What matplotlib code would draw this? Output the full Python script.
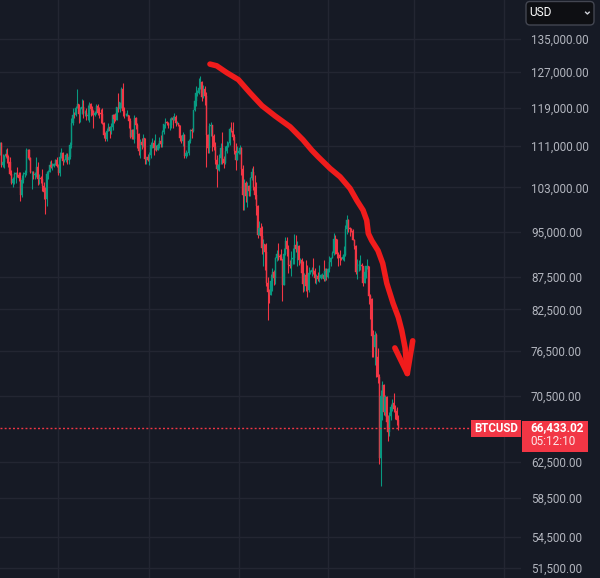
import numpy as np
import pandas as pd
import matplotlib
matplotlib.use("Agg")
import matplotlib.pyplot as plt
from matplotlib.patches import FancyBboxPatch, Rectangle
from matplotlib.lines import Line2D
from matplotlib.ticker import FixedLocator, NullLocator, FuncFormatter
from matplotlib.transforms import IdentityTransform

# ---------------- data (daily BTCUSD, thousands of USD) ----------------
start_date = "2025-05-22"

opens = [
    109.6, 111.7, 107.3, 107.8, 109.0, 109.4, 108.9, 107.8, 105.6, 103.9,
    104.6, 105.6, 105.8, 105.4, 104.7, 101.5, 104.3, 105.6, 105.7, 110.2,
    110.2, 108.6, 105.9, 106.0, 105.4, 105.5, 106.8, 104.6, 104.8, 104.6,
    103.3, 102.2, 100.9, 105.5, 106.0, 107.3, 106.9, 107.1, 107.4, 108.3,
    107.1, 105.7, 108.8, 109.6, 108.0, 108.2, 109.2, 108.2, 108.9, 111.3,
    115.9, 117.5, 117.4, 119.1, 119.8, 117.7, 118.7, 119.3, 117.9, 117.9,
    117.3, 117.4, 119.9, 118.7, 118.3, 117.6, 117.9, 119.4, 118.0, 117.9,
    117.8,
    115.7, 113.3, 112.5, 114.2, 115.0, 114.1, 115.0, 117.5, 116.7, 116.5,
    119.3, 118.7, 120.2, 123.3, 118.4, 117.4, 117.5, 117.5, 116.3, 112.9,
    114.3, 112.5, 116.9, 115.4, 113.5, 110.1, 111.8, 111.3, 112.6, 108.4,
    108.8,
    108.3, 109.2, 111.2, 111.7, 110.7, 110.7, 110.2, 111.2, 112.1, 111.5,
    113.9, 115.5, 116.1, 115.9, 115.3, 115.4, 116.8, 116.5, 117.1, 115.7,
    115.7, 115.3, 112.7, 112.0, 113.3, 109.0, 109.6, 109.7, 112.1, 114.4,
    114.1, 118.6, 120.6, 122.3, 122.4, 123.5, 124.7, 121.4, 123.3, 121.7,
    113.2, 110.6, 115.2, 115.3, 113.1, 110.8, 108.2, 106.5, 107.2, 108.6,
    110.6, 108.4, 107.6, 110.0, 111.0, 111.6, 114.5, 114.1, 112.9, 110.0,
    108.3,
    109.6, 110.1, 110.6, 106.5, 101.5, 103.9, 101.3, 103.3, 102.3, 104.7,
    105.9, 103.0, 101.6, 99.6, 94.5, 95.6, 94.2, 92.2, 92.9, 91.5,
    86.6, 85.1, 84.7, 86.8, 88.3, 87.3, 90.5, 91.3, 90.9, 90.8,
    90.4, 86.3, 91.3, 93.5, 92.1, 89.4, 89.3, 90.4, 90.6, 92.7,
    92.0, 92.5, 90.3, 90.3, 88.2, 86.4, 87.8, 86.1, 85.5, 88.1,
    88.3, 88.6, 88.5, 87.4, 87.6, 87.2, 87.3, 87.8, 87.8, 87.1,
    88.4,
    87.5, 88.7, 89.9, 90.6, 91.4, 93.8, 93.7, 91.3, 91.0, 90.5,
    90.4, 90.8, 91.1, 95.4, 97.0, 95.6, 95.5, 95.1, 93.6, 92.6,
    88.3, 89.4, 89.5, 89.5, 89.2, 86.6, 88.3, 89.2, 89.2, 84.5,
    84.1,
    78.6, 77.0, 78.7, 75.7, 73.0, 62.9, 70.5, 71.9, 68.4, 70.3,
    67.2, 66.0, 67.9, 69.0, 69.6, 68.8, 68.6, 67.4,
]

highs = [
    111.9, 111.8, 109.5, 109.3, 110.4, 110.7, 109.3, 108.9, 106.3, 104.9,
    105.9, 105.9, 106.8, 106.0, 105.9, 105.3, 105.9, 106.4, 110.6, 110.4,
    110.4, 108.9, 106.2, 106.2, 106.0, 108.9, 107.8, 105.6, 105.2, 106.5,
    104.0, 103.0, 106.1, 106.3, 108.1, 108.2, 107.7, 107.6, 108.5, 108.8,
    107.5, 109.8, 110.6, 109.8, 108.4, 109.7, 109.7, 109.2, 111.9, 116.9,
    118.9, 118.2, 119.5, 123.2, 119.9, 119.2, 120.9, 120.8, 118.6, 118.9,
    119.7, 120.3, 120.1, 119.5, 118.5, 118.3, 119.8, 119.8, 119.3, 118.8,
    118.9,
    116.1, 114.0, 114.8, 115.7, 115.1, 115.8, 117.7, 117.7, 117.9, 119.3,
    122.3, 120.3, 123.7, 124.5, 119.2, 117.9, 118.6, 117.6, 116.8, 114.6,
    114.5, 117.4, 117.0, 115.7, 113.7, 112.4, 112.6, 113.5, 112.7, 108.9,
    109.5,
    109.9, 111.8, 112.6, 112.2, 113.4, 111.3, 111.6, 112.9, 113.2, 114.3,
    115.5, 116.8, 116.3, 116.1, 116.8, 117.0, 117.3, 117.9, 117.5, 116.3,
    115.9, 115.4, 113.3, 114.0, 113.5, 110.3, 109.8, 112.4, 114.5, 114.8,
    118.6, 121.0, 123.9, 122.9, 125.7, 126.2, 125.1, 124.2, 123.8, 122.5,
    113.5, 115.8, 116.0, 115.3, 113.6, 111.9, 109.3, 107.5, 109.5, 111.7,
    114.0, 109.0, 111.0, 112.0, 111.9, 115.0, 116.0, 116.0, 113.6, 111.6,
    111.1,
    110.6, 111.2, 110.8, 107.3, 104.5, 104.2, 104.0, 103.4, 105.0, 106.6,
    107.0, 105.3, 104.0, 99.8, 96.8, 96.6, 96.0, 93.8, 92.9, 93.1,
    87.5, 85.6, 88.0, 89.0, 88.6, 90.7, 91.9, 93.1, 91.2, 92.0,
    90.4, 92.3, 94.1, 94.1, 92.7, 90.3, 91.7, 92.3, 94.6, 94.5,
    93.5, 92.8, 90.6, 90.6, 90.1, 88.2, 90.3, 89.4, 89.1, 88.6,
    89.1, 90.5, 88.9, 87.9, 88.3, 89.5, 87.9, 88.1, 90.3, 89.0,
    89.0,
    88.9, 90.9, 90.7, 91.8, 94.8, 94.4, 93.7, 91.5, 91.9, 90.8,
    91.2, 92.5, 96.2, 98.0, 97.2, 95.9, 95.6, 95.5, 93.8, 92.8,
    90.4, 90.3, 91.1, 89.8, 89.2, 88.9, 89.3, 90.4, 89.3, 84.9,
    84.2,
    79.4, 79.3, 79.0, 76.9, 73.3, 71.2, 72.4, 72.0, 70.6, 70.5,
    68.0, 68.4, 69.4, 70.1, 70.9, 69.3, 69.0, 68.0,
]

lows = [
    109.3, 106.8, 106.9, 106.6, 108.7, 107.6, 106.8, 105.3, 103.6, 103.1,
    103.7, 103.8, 104.9, 104.2, 100.4, 101.2, 103.9, 105.0, 105.3, 108.4,
    108.2, 105.7, 102.7, 104.5, 104.5, 104.9, 103.4, 103.6, 103.9, 102.4,
    100.8, 98.2, 99.6, 104.6, 105.9, 106.7, 106.3, 106.9, 107.3, 106.8,
    105.3, 105.2, 108.6, 107.3, 107.8, 107.9, 107.5, 107.5, 108.4, 110.6,
    115.3, 116.9, 117.2, 118.9, 115.7, 116.0, 117.8, 116.9, 117.3, 116.5,
    116.5, 116.1, 117.3, 117.4, 114.7, 117.2, 117.8, 117.4, 116.9, 115.8,
    115.5,
    112.7, 112.0, 112.0, 114.1, 112.7, 113.4, 114.3, 115.9, 116.3, 116.5,
    118.1, 118.2, 118.9, 117.2, 116.8, 117.2, 117.3, 114.7, 112.7, 112.4,
    112.4, 111.7, 114.6, 110.6, 109.3, 108.7, 110.4, 110.9, 107.5, 107.4,
    108.1,
    107.3, 108.6, 110.6, 109.3, 110.2, 110.0, 110.2, 110.6, 110.8, 110.9,
    113.4, 114.8, 115.3, 114.8, 114.4, 114.8, 114.8, 116.5, 115.1, 115.6,
    115.2, 112.0, 111.6, 111.1, 108.7, 108.6, 109.1, 109.3, 111.6, 112.7,
    113.9, 118.3, 119.4, 121.6, 122.1, 123.1, 120.6, 121.1, 119.7, 106.9,
    109.7, 109.6, 113.0, 110.1, 110.2, 107.5, 103.0, 106.3, 106.1, 107.5,
    107.5, 106.7, 107.5, 109.7, 110.9, 111.3, 113.9, 112.2, 109.5, 106.3,
    108.2,
    109.4, 109.5, 105.3, 98.9, 98.9, 100.3, 99.3, 101.4, 101.3, 104.3,
    102.5, 100.9, 98.0, 94.0, 94.5, 93.0, 91.2, 89.3, 88.6, 86.1,
    80.9, 83.5, 84.6, 85.3, 86.2, 86.4, 90.1, 90.2, 90.3, 90.3,
    83.8, 86.2, 91.1, 90.9, 88.1, 88.9, 87.7, 89.6, 89.6, 91.6,
    89.3, 89.5, 89.8, 87.6, 85.2, 85.3, 85.3, 84.4, 85.1, 87.9,
    87.6, 87.9, 86.6, 86.4, 86.9, 86.7, 87.2, 87.4, 86.8, 86.9,
    87.0,
    87.3, 88.3, 89.3, 90.5, 91.1, 91.3, 90.6, 89.3, 89.5, 90.2,
    90.2, 90.0, 90.9, 94.6, 94.9, 94.3, 94.9, 93.6, 92.0, 87.9,
    87.2, 88.5, 88.6, 89.1, 86.1, 86.6, 87.4, 88.7, 83.3, 81.1,
    75.6,
    75.7, 74.5, 72.9, 72.1, 62.3, 59.8, 67.5, 68.0, 67.9, 66.5,
    64.9, 65.5, 67.5, 68.6, 68.4, 67.6, 66.8, 66.2,
]

closes = [
    111.7, 107.3, 107.8, 109.0, 109.4, 108.9, 107.8, 105.6, 103.9, 104.6,
    105.6, 105.8, 105.4, 104.7, 101.5, 104.3, 105.6, 105.7, 110.2, 110.2,
    108.6, 105.9, 106.0, 105.4, 105.5, 106.8, 104.6, 104.8, 104.6, 103.3,
    102.2, 100.9, 105.5, 106.0, 107.3, 106.9, 107.1, 107.4, 108.3, 107.1,
    105.7, 108.8, 109.6, 108.0, 108.2, 109.2, 108.2, 108.9, 111.3, 115.9,
    117.5, 117.4, 119.1, 119.8, 117.7, 118.7, 119.3, 117.9, 117.9, 117.3,
    117.4, 119.9, 118.7, 118.3, 117.6, 117.9, 119.4, 118.0, 117.9, 117.8,
    115.7,
    113.3, 112.5, 114.2, 115.0, 114.1, 115.0, 117.5, 116.7, 116.5, 119.3,
    118.7, 120.2, 123.3, 118.4, 117.4, 117.5, 117.5, 116.3, 112.9, 114.3,
    112.5, 116.9, 115.4, 113.5, 110.1, 111.8, 111.3, 112.6, 108.4, 108.8,
    108.3,
    109.2, 111.2, 111.7, 110.7, 110.7, 110.2, 111.2, 112.1, 111.5, 113.9,
    115.5, 116.1, 115.9, 115.3, 115.4, 116.8, 116.5, 117.1, 115.7, 115.7,
    115.3, 112.7, 112.0, 113.3, 109.0, 109.6, 109.7, 112.1, 114.4, 114.1,
    118.6, 120.6, 122.3, 122.4, 123.5, 124.7, 121.4, 123.3, 121.7, 113.2,
    110.6, 115.2, 115.3, 113.1, 110.8, 108.2, 106.5, 107.2, 108.6, 110.6,
    108.4, 107.6, 110.0, 111.0, 111.6, 114.5, 114.1, 112.9, 110.0, 108.3,
    109.6,
    110.1, 110.6, 106.5, 101.5, 103.9, 101.3, 103.3, 102.3, 104.7, 105.9,
    103.0, 101.6, 99.6, 94.5, 95.6, 94.2, 92.2, 92.9, 91.5, 86.6,
    85.1, 84.7, 86.8, 88.3, 87.3, 90.5, 91.3, 90.9, 90.8, 90.4,
    86.3, 91.3, 93.5, 92.1, 89.4, 89.3, 90.4, 90.6, 92.7, 92.0,
    92.5, 90.3, 90.3, 88.2, 86.4, 87.8, 86.1, 85.5, 88.1, 88.3,
    88.6, 88.5, 87.4, 87.6, 87.2, 87.3, 87.8, 87.8, 87.1, 88.4,
    87.5,
    88.7, 89.9, 90.6, 91.4, 93.8, 93.7, 91.3, 91.0, 90.5, 90.4,
    90.8, 91.1, 95.4, 97.0, 95.6, 95.5, 95.1, 93.6, 92.6, 88.3,
    89.4, 89.5, 89.5, 89.2, 86.6, 88.3, 89.2, 89.2, 84.5, 84.1,
    78.6,
    77.0, 78.7, 75.7, 73.0, 62.9, 70.5, 71.9, 68.4, 70.3, 67.2,
    66.0, 67.9, 69.0, 69.6, 68.8, 68.6, 67.4, 66.433,
]

price_ticks = [135000, 127000, 119000, 111000, 103000, 95000, 87500,
               82500, 76500, 70500, 62500, 58500, 54500, 51500]

symbol = "BTCUSD"
currency = "USD"
last_price = 66433.02
countdown = "05:12:10"

# hand-drawn arrow (day index from start_date, price in thousands)
arrow_x = [143.5, 148.1, 155.0, 162.9, 170.9, 179.0, 187.9, 198.2, 207.0,
           213.0, 217.3, 225.5, 232.3, 239.1, 243.7, 248.0, 250.5, 251.6,
           253.9, 258.2, 261.4, 264.2, 268.5, 272.1, 274.4, 276.7, 278.2]
arrow_y = [128.9, 128.5, 126.9, 125.3, 122.3, 119.5, 117.3, 115.0, 112.3,
           110.2, 108.9, 106.6, 105.0, 102.8, 100.6, 98.8, 97.0, 94.7,
           93.5, 91.8, 89.7, 86.5, 83.4, 81.3, 79.4, 76.9, 73.4]
head_x = [269.7, 278.2, 281.9]
head_y = [76.9, 73.4, 77.9]

assert len(opens) == len(highs) == len(lows) == len(closes) == 273

# ---------------- style ----------------
BG = "#161a25"
GRID = "#232632"
UP = "#089981"
DOWN = "#f23645"
TXT = "#b2b5be"
PEN = "#f01c1c"
W, H = 600, 578
FONT = "Roboto"

fig = plt.figure(figsize=(W / 100, H / 100), dpi=100, facecolor=BG)
ax = fig.add_axes([0, 0, 521 / W, 1])
ax.set_facecolor(BG)
for s in ax.spines.values():
    s.set_visible(False)

o = np.array(opens) * 1000
h = np.array(highs) * 1000
l = np.array(lows) * 1000
c = np.array(closes) * 1000
idx = np.arange(len(c))
cols = np.where(c >= o, UP, DOWN)

ax.set_yscale("log")
ax.vlines(idx, l, h, colors=cols, linewidth=0.78, zorder=3)
ax.bar(idx, np.abs(c - o), bottom=np.minimum(o, c), width=0.78,
       color=cols, edgecolor=cols, linewidth=0.3, zorder=4)

# arrow
ax.plot(arrow_x, np.array(arrow_y) * 1000, color=PEN, lw=4.0,
        solid_capstyle="round", solid_joinstyle="round", zorder=6)
ax.plot(head_x, np.array(head_y) * 1000, color=PEN, lw=4.0,
        solid_capstyle="round", solid_joinstyle="round", zorder=6)

# axes ranges
ax.set_xlim(0.2, 355.8)
ax.set_ylim(50590, 144850)

# grid: month starts every two months
all_days = pd.date_range(start_date, "2026-05-31", freq="D")
start = pd.Timestamp(start_date)
grid_days = [(d - start).days for d in all_days
             if d.day == 1 and d.month % 2 == 1]
ax.set_xticks(grid_days)
ax.tick_params(axis="x", length=0, labelbottom=False)

ax.yaxis.set_major_locator(FixedLocator(price_ticks))
ax.yaxis.set_minor_locator(NullLocator())
ax.yaxis.set_major_formatter(FuncFormatter(lambda v, p: f"{v:,.2f}"))
ax.yaxis.tick_right()
ax.tick_params(axis="y", length=0, pad=7.2, labelsize=8.4, labelcolor=TXT)
for lab in ax.get_yticklabels():
    lab.set_fontfamily(FONT)
ax.grid(True, color=GRID, lw=1)
ax.set_axisbelow(True)

# current price dotted line
ax.axhline(last_price, xmin=0, xmax=471 / 521, color=DOWN, lw=1,
           ls=(0, (1.4, 1.6)), zorder=5)

# ---------------- labels in pixel space ----------------
ident = IdentityTransform()
yd = ax.transData.transform((0, last_price))[1]

fig.add_artist(Rectangle((471, yd - 8.5), 50, 17, facecolor=DOWN,
                         edgecolor="none", transform=ident, zorder=5))
fig.text(496, yd, symbol, transform=ident, ha="center", va="center",
         color="white", fontsize=8.3, fontweight="bold", family=FONT, zorder=6)

fig.add_artist(Rectangle((522, yd - 23.6), 66, 31, facecolor=DOWN,
                         edgecolor="none", transform=ident, zorder=5))
fig.text(530, yd + 0.2, f"{last_price:,.2f}", transform=ident, ha="left",
         va="center", color="white", fontsize=8.5, fontweight="bold",
         family=FONT, zorder=6)
fig.text(530, yd - 13.6, countdown, transform=ident, ha="left",
         va="center", color="#fde6e8", fontsize=8.5, family=FONT, zorder=6)

# currency button
fig.add_artist(FancyBboxPatch((526, H - 25), 68, 23.5,
                              boxstyle="round,pad=0,rounding_size=4",
                              facecolor="#0e0f13", edgecolor="#434651",
                              lw=1, transform=ident, zorder=5))
fig.text(529.5, H - 13, currency, transform=ident, ha="left", va="center",
         color="white", fontsize=8.6, family=FONT, zorder=6)
fig.add_artist(Line2D([585.6, 587.4, 589.2], [H - 12.2, H - 14.0, H - 12.2],
                      color="#d1d4dc", lw=1.0, transform=ident, zorder=6))

fig.savefig("out.png", dpi=100, facecolor=BG)
